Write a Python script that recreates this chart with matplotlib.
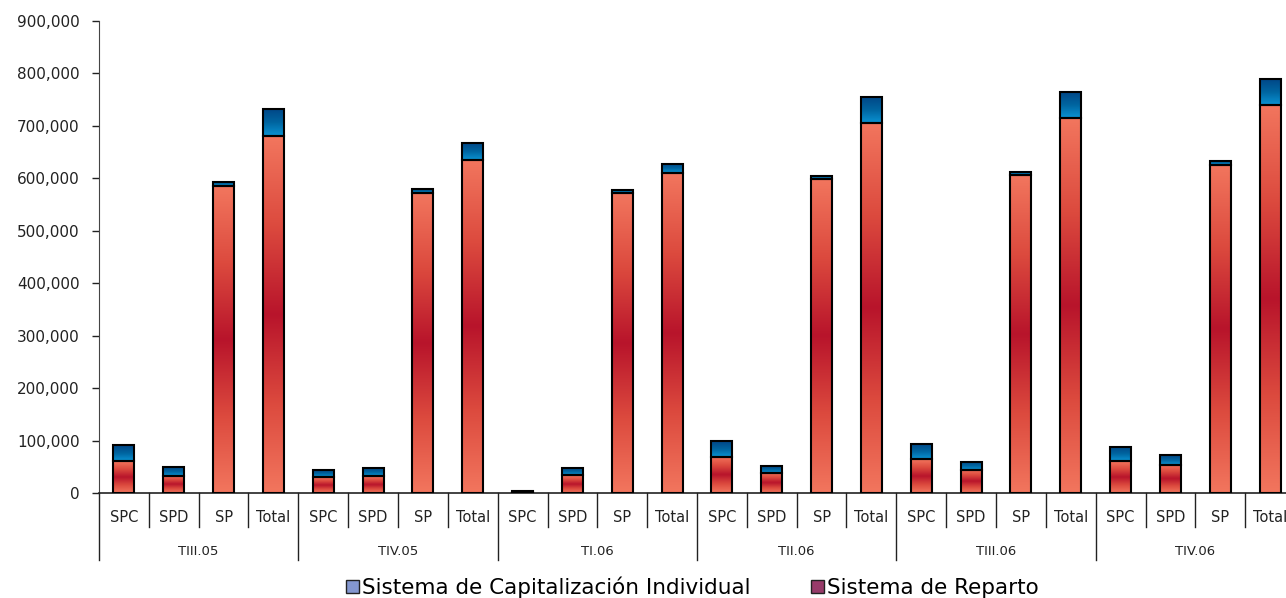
import numpy as np
import matplotlib
matplotlib.use("Agg")
import matplotlib.pyplot as plt
from matplotlib.colors import LinearSegmentedColormap
from matplotlib.patches import Patch
from matplotlib.ticker import FuncFormatter

periods = ["TIII.05", "TIV.05", "TI.06", "TII.06", "TIII.06", "TIV.06"]
systems = ["SPC", "SPD", "SP", "Total"]

# Sistema de Reparto (bottom)
reparto = [61000, 33000, 585000, 680000,
           30000, 32000, 572000, 635000,
           2000, 34000, 572000, 610000,
           69000, 39000, 599000, 706000,
           64000, 44000, 606000, 715000,
           61000, 54000, 626000, 740000]

# Sistema de Capitalizacion Individual (top)
capitalizacion = [30000, 16000, 8000, 52000,
                  13000, 15000, 7000, 33000,
                  1500, 13000, 6500, 18000,
                  30000, 13000, 6000, 50000,
                  30000, 16000, 7000, 50000,
                  27000, 18000, 8000, 50000]

plt.rcParams["font.family"] = ["DejaVu Sans"]

fig = plt.figure(figsize=(12.86, 5.98), dpi=100)
ax = fig.add_axes([99 / 1286, 105 / 598, 1196 / 1286, 472 / 598])

n = len(periods) * len(systems)
x = np.arange(n)
width = 0.42

red_cmap = LinearSegmentedColormap.from_list(
    "reds", ["#f2765e", "#dc4a3e", "#b8142b", "#dc4a3e", "#f2765e"])
blue_cmap = LinearSegmentedColormap.from_list("blues", ["#0a93d3", "#00649f", "#004585"])

bot = ax.bar(x, reparto, width, color="none", edgecolor="black", linewidth=1.5, zorder=3)
top = ax.bar(x, capitalizacion, width, bottom=reparto, color="none",
             edgecolor="black", linewidth=1.5, zorder=3)

grad = np.linspace(0, 1, 256).reshape(-1, 1)
for bars, cmap in [(bot, red_cmap), (top, blue_cmap)]:
    for r in bars:
        x0, y0 = r.get_x(), r.get_y()
        w, h = r.get_width(), r.get_height()
        ax.imshow(grad, extent=[x0, x0 + w, y0 + h, y0], aspect="auto",
                  cmap=cmap, interpolation="bicubic", zorder=2)

ax.set_xlim(-0.5, n - 0.5)
ax.set_ylim(0, 900000)
ax.set_yticks(np.arange(0, 900001, 100000))
ax.yaxis.set_major_formatter(FuncFormatter(lambda v, _: f"{v:,.0f}"))
ax.tick_params(axis="y", direction="out", length=5, width=1, labelsize=11,
               colors="#222222", pad=9)
ax.set_xticks([])

for s in ["top", "right"]:
    ax.spines[s].set_visible(False)
ax.spines["left"].set_color("#444444")
ax.spines["bottom"].set_color("#222222")
ax.spines["bottom"].set_linewidth(1.2)

# multi-level category axis
tr = ax.get_xaxis_transform()
for i in range(n + 1):
    ylow = -0.142 if i % 4 == 0 else -0.072
    ax.plot([i - 0.5, i - 0.5], [0, ylow], transform=tr, color="#222222",
            lw=1, clip_on=False)
for i in range(n):
    ax.text(i, -0.051, systems[i % 4], transform=tr, ha="center", va="center",
            fontsize=10.5, color="#222222")
for g, p in enumerate(periods):
    ax.text(g * 4 + 1.5, -0.123, p, transform=tr, ha="center", va="center",
            fontsize=9.5, color="#222222")

handles = [Patch(facecolor="#8497d0", edgecolor="#222222", label="Sistema de Capitalización Individual"),
           Patch(facecolor="#983b6a", edgecolor="#222222", label="Sistema de Reparto")]
fig.legend(handles=handles, loc="center", bbox_to_anchor=(0.5385, 0.018), ncol=2,
           frameon=False, fontsize=15.5, handlelength=0.6, handleheight=0.6,
           handletextpad=0.15, columnspacing=2.8, borderpad=0)

fig.savefig("out.png", dpi=100)
